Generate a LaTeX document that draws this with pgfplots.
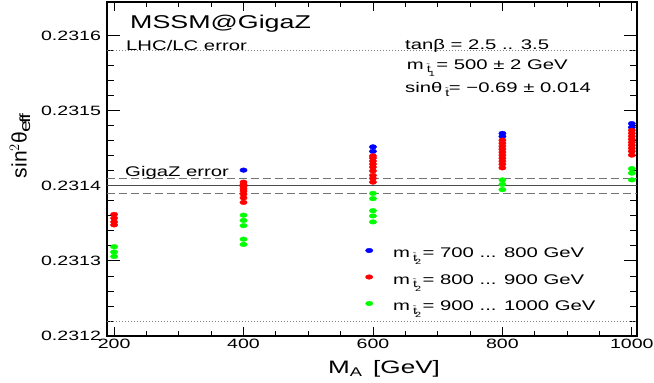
\documentclass[border=0pt]{standalone}
\usepackage{fontspec}
\setmainfont{Liberation Sans}[FakeStretch=1.45]
\newfontfamily\plainfont{Liberation Sans}
\usepackage{pgfplots}
\pgfplotsset{compat=1.18}
\newcommand\fs[1]{\fontsize{#1}{#1}\selectfont}
% stop subscript: tilde-t with an index
\newcommand\st[1]{\kern3pt\raisebox{-0.5ex}{\fs{10}$\tilde{\mathrm{t}}$\kern-0.8pt\raisebox{-0.6ex}{\fs{7.5}#1}}\kern1.5pt}

\begin{document}
\begin{tikzpicture}
\begin{axis}[
  scale only axis, width=530pt, height=334pt,
  xmin=189, xmax=1008, ymin=0.2312, ymax=0.231645,
  xtick={200,400,600,800,1000}, minor x tick num=3,
  ytick={0.2312,0.2313,0.2314,0.2315,0.2316}, minor y tick num=4,
  scaled y ticks=false,
  /pgf/number format/assume math mode=true,
  /pgf/number format/1000 sep={},
  tick label style={font=\fs{13.5}},
  yticklabel style={xshift=-2.5pt, /pgf/number format/.cd, fixed, fixed zerofill, precision=4},
  tick align=inside,
  axis line style={line width=1.1pt},
  major tick length=13pt, minor tick length=7pt,
  xtick style={/pgfplots/major tick length=9pt, /pgfplots/minor tick length=5pt},
  tick style={line width=0.9pt, black},
  xlabel={M$_{\mathrm{A}}$\ \ [GeV]},
  xlabel style={font=\fs{18}, at={(axis description cs:0.5226,-0.1117)}, anchor=base},
  ylabel={\plainfont sin$^{2}$θ$_{\mathrm{eff}}$},
  ylabel style={font=\fs{21}, at={(axis description cs:-0.164,0.567)}, anchor=center},
  legend cell align=left,
  legend image code/.code={\draw[#1] plot coordinates {(0pt,3pt)}; \path[draw=none, fill=none] (-4pt,-9pt) rectangle (24pt,12pt);},
  legend style={at={(axis description cs:0.4868,0.2835)}, anchor=north west, draw=none, fill=none,
    inner sep=0pt, nodes={inner sep=0pt}, row sep=5.5pt, font=\fs{14}},
]
% error bands
\addplot[forget plot, gray, line width=0.8pt, dash pattern=on 1pt off 2pt] coordinates {(189,0.23158) (1008,0.23158)};
\addplot[forget plot, gray, line width=0.8pt, dash pattern=on 1pt off 2pt] coordinates {(189,0.23122) (1008,0.23122)};
\addplot[forget plot, black!55, line width=1pt, dash pattern=on 8pt off 4pt] coordinates {(189,0.23141) (1008,0.23141)};
\addplot[forget plot, black!55, line width=1pt, dash pattern=on 8pt off 4pt] coordinates {(189,0.23139) (1008,0.23139)};
\addplot[forget plot, black!70, line width=1pt] coordinates {(189,0.2314) (1008,0.2314)};

% m_st2 = 700 .. 800
\addplot[only marks, mark=*, mark size=2.3pt, blue, mark options={xscale=1.6, draw=none, fill=blue}] coordinates {
  (400,0.231421)
  (600,0.231452) (600,0.231446)
  (800,0.231470) (800,0.231466)
  (1000,0.231483) (1000,0.231478)
};
\addlegendentry{m\st{2}= 700 ... 800 GeV}
% m_st2 = 800 .. 900
\addplot[only marks, mark=*, mark size=2.3pt, red, mark options={xscale=1.6, draw=none, fill=red}] coordinates {
  (200,0.231362) (200,0.231357) (200,0.231352) (200,0.231348)
  (400,0.231405) (400,0.231402) (400,0.231399) (400,0.231396) (400,0.231393) (400,0.231389) (400,0.231384) (400,0.231378)
  (600,0.231440) (600,0.231437) (600,0.231433) (600,0.231429) (600,0.231425) (600,0.231420) (600,0.231414) (600,0.231410) (600,0.231405)
  (800,0.231461) (800,0.231457) (800,0.231453) (800,0.231449) (800,0.231445) (800,0.231441) (800,0.231437) (800,0.231433) (800,0.231429) (800,0.231424)
  (1000,0.231474) (1000,0.231470) (1000,0.231466) (1000,0.231462) (1000,0.231458) (1000,0.231454) (1000,0.231450) (1000,0.231446) (1000,0.231441)
};
\addlegendentry{m\st{2}= 800 ... 900 GeV}
% m_st2 = 900 .. 1000
\addplot[only marks, mark=*, mark size=2.3pt, green, mark options={xscale=1.6, draw=none, fill=green}] coordinates {
  (200,0.231319) (200,0.231312) (200,0.231306)
  (400,0.231361) (400,0.231354) (400,0.231347) (400,0.231329) (400,0.231322)
  (600,0.231390) (600,0.231383) (600,0.231367) (600,0.231360) (600,0.231352)
  (800,0.231408) (800,0.231402) (800,0.231395)
  (1000,0.231423) (1000,0.231417) (1000,0.231408)
};
\addlegendentry{m\st{2}= 900 ... 1000 GeV}

\node[anchor=base west, inner sep=0pt, font=\fs{18.5}] at (rel axis cs:0.0434,0.921) {MSSM@GigaZ};
\node[anchor=base west, inner sep=0pt, font=\fs{14}] at (rel axis cs:0.0358,0.854) {LHC/LC error};
\node[anchor=base west, inner sep=0pt, font=\fs{14}] at (rel axis cs:0.034,0.477) {GigaZ error};
\node[anchor=base west, inner sep=0pt, font=\fs{14}] at (rel axis cs:0.5623,0.858) {tanβ = 2.5 .. 3.5};
\node[anchor=base west, inner sep=0pt, font=\fs{14}] at (rel axis cs:0.5655,0.7985) {m\st{1}= 500 ± 2 GeV};
\node[anchor=base west, inner sep=0pt, font=\fs{14}] at (rel axis cs:0.5623,0.7284) {sinθ\st{}= −0.69 ± 0.014};
\end{axis}
\pgfresetboundingbox
\path[use as bounding box] ([xshift=-107pt,yshift=-46pt]current axis.south west) rectangle ([xshift=17pt,yshift=2pt]current axis.north east);
\end{tikzpicture}
\end{document}
